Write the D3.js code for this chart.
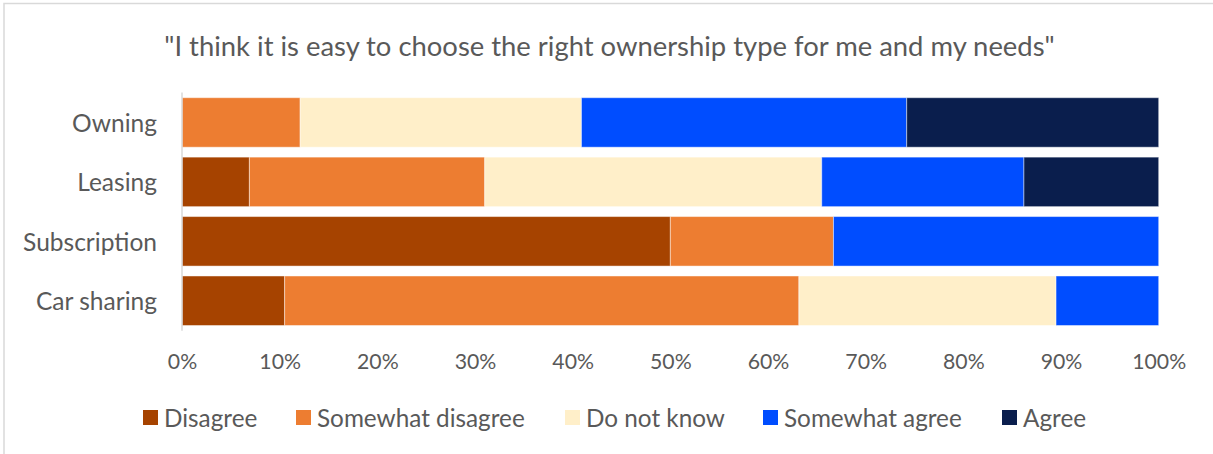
<!DOCTYPE html>
<html>
<head>
<meta charset="utf-8">
<script src="https://cdn.jsdelivr.net/npm/d3@7"></script>
<style>
  html, body { margin: 0; padding: 0; background: #ffffff; }
  svg { display: block; }
  text { font-family: Lato, "Open Sans", "Noto Sans", sans-serif; fill: #595959; }
</style>
</head>
<body>
<svg id="chart" width="1213" height="454"></svg>
<script>
// Survey question and answer scale
const title = "\"I think it is easy to choose the right ownership type for me and my needs\"";
const categories = ["Owning", "Leasing", "Subscription", "Car sharing"];
const seriesNames = ["Disagree", "Somewhat disagree", "Do not know", "Somewhat agree", "Agree"];
const seriesColors = ["#A64300", "#ED7D31", "#FFEFC9", "#004DFF", "#0A1E4D"];

// Share of respondents (%) per answer, one array per answer, in category order
const disagree         = [0,    6.9,  50.0, 10.5];
const somewhatDisagree = [12.1, 24.1, 16.7, 52.6];
const doNotKnow        = [28.8, 34.5, 0,    26.3];
const somewhatAgree    = [33.3, 20.7, 33.3, 10.5];
const agree            = [25.8, 13.8, 0,    0];

const tickValues = [0, 0.1, 0.2, 0.3, 0.4, 0.5, 0.6, 0.7, 0.8, 0.9, 1.0];

// Build rows for the stack layout (normalised to 100% per category)
const seriesData = [disagree, somewhatDisagree, doNotKnow, somewhatAgree, agree];
const rows = categories.map((c, i) => {
  const row = { category: c };
  const total = d3.sum(seriesData, s => s[i]);
  seriesNames.forEach((n, j) => { row[n] = seriesData[j][i] / total; });
  return row;
});

const svg = d3.select("#chart");

// Chart frame
svg.append("rect")
  .attr("x", 4).attr("y", 3.5)
  .attr("width", 1300).attr("height", 500)
  .attr("fill", "none")
  .attr("stroke", "#D9D9D9")
  .attr("stroke-width", 1.5);

// Scales
const x = d3.scaleLinear().domain([0, 1]).range([182, 1158.7]);
const y = d3.scaleBand().domain(categories)
  .range([92.5, 330.7])
  .paddingInner(0.167)
  .paddingOuter(0.0875);
const color = d3.scaleOrdinal().domain(seriesNames).range(seriesColors);

const stacked = d3.stack().keys(seriesNames)(rows);

// Stacked bars
svg.append("g")
  .selectAll("g")
  .data(stacked)
  .join("g")
    .attr("fill", d => color(d.key))
  .selectAll("rect")
  .data(d => d.filter(p => p[1] - p[0] > 0))
  .join("rect")
    .attr("x", d => x(d[0]))
    .attr("y", d => y(d.data.category))
    .attr("width", d => x(d[1]) - x(d[0]))
    .attr("height", y.bandwidth())
    .attr("stroke", "#ffffff")
    .attr("stroke-opacity", 0.45)
    .attr("stroke-width", 1);

// Category axis line
svg.append("line")
  .attr("x1", x(0)).attr("x2", x(0))
  .attr("y1", y.range()[0]).attr("y2", y.range()[1])
  .attr("stroke", "#D9D9D9")
  .attr("stroke-width", 1.5);

// Scale a text selection's font size so the given labels span the given total width
function fitSize(sel, refNodes, targetWidth, startSize) {
  sel.style("font-size", startSize + "px");
  const w = d3.sum(refNodes, n => n.getComputedTextLength());
  const size = startSize * targetWidth / w;
  sel.style("font-size", size + "px");
  return size;
}

// Category labels
const catLabels = svg.append("g")
  .selectAll("text")
  .data(categories)
  .join("text")
    .attr("x", 157)
    .attr("y", d => y(d) + y.bandwidth() / 2)
    .attr("text-anchor", "end")
    .attr("dominant-baseline", "central")
    .text(d => d);
fitSize(catLabels, [catLabels.nodes()[2]], 134, 20);

// Percentage axis labels
const xAxis = svg.append("g")
  .attr("transform", "translate(0,361)")
  .call(d3.axisBottom(x).tickValues(tickValues).tickFormat(d3.format(".0%")).tickSize(0).tickPadding(0));
xAxis.select(".domain").remove();
const tickText = xAxis.selectAll("text")
  .attr("dy", null)
  .attr("y", 0)
  .attr("dominant-baseline", "central")
  .attr("fill", "#595959")
  .style("font-family", "Lato, 'Open Sans', sans-serif");
fitSize(tickText, [tickText.nodes()[10]], 54, 18);

// Title
const titleText = svg.append("text")
  .attr("x", 609.5)
  .attr("y", 45)
  .attr("text-anchor", "middle")
  .attr("dominant-baseline", "central")
  .text(title);
fitSize(titleText, [titleText.node()], 891, 21);

// Legend
const legendX = [143, 296, 565, 763, 1002];
const legend = svg.append("g")
  .selectAll("g")
  .data(seriesNames)
  .join("g")
    .attr("transform", (d, i) => `translate(${legendX[i]},417.5)`);
legend.append("rect")
  .attr("x", 0).attr("y", -7.5)
  .attr("width", 15).attr("height", 15)
  .attr("fill", d => color(d));
const legendText = legend.append("text")
  .attr("x", 21)
  .attr("y", 0)
  .attr("dominant-baseline", "central")
  .text(d => d);
fitSize(legendText, legendText.nodes(), 91 + 212 + 135 + 182 + 61, 21);
</script>
</body>
</html>
